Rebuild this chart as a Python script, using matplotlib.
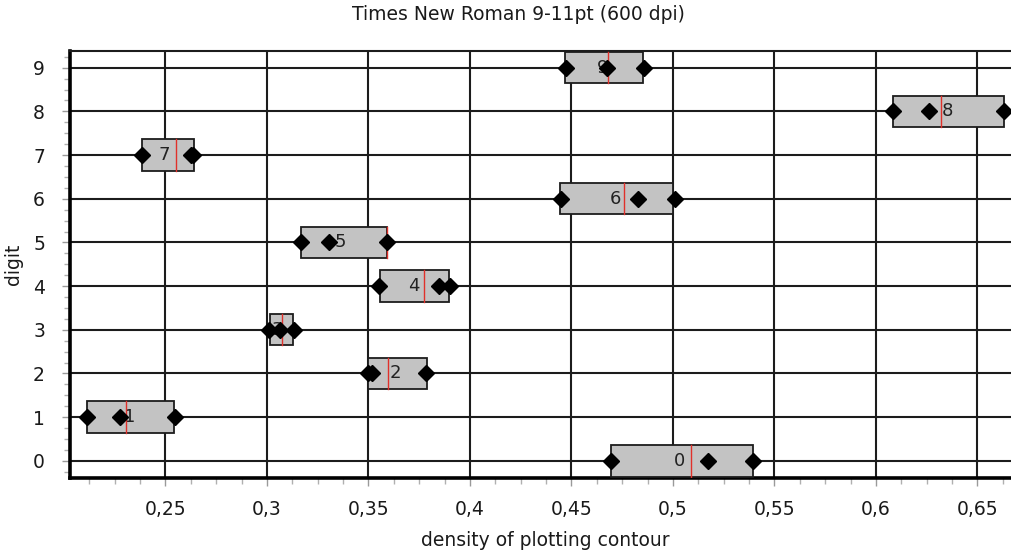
import matplotlib
matplotlib.use("Agg")
import matplotlib.pyplot as plt
from matplotlib.patches import Rectangle
from matplotlib.ticker import MultipleLocator, FuncFormatter

# Density of plotting contour per digit (Times New Roman 9-11pt, 600 dpi)
digits = [0, 1, 2, 3, 4, 5, 6, 7, 8, 9]
box_lo = [0.4696, 0.2112, 0.3499, 0.3015, 0.3557, 0.3166, 0.4443, 0.2386, 0.6082, 0.4468]
box_hi = [0.5393, 0.2542, 0.3787, 0.3126, 0.3896, 0.3593, 0.5001, 0.2640, 0.6630, 0.4851]
min_v = [0.4696, 0.2115, 0.3499, 0.3012, 0.3552, 0.3166, 0.4447, 0.2383, 0.6082, 0.4473]
mean_v = [0.5174, 0.2276, 0.3517, 0.3064, 0.3847, 0.3305, 0.4829, 0.2626, 0.6263, 0.4673]
max_v = [0.5393, 0.2547, 0.3782, 0.3135, 0.3900, 0.3590, 0.5010, 0.2634, 0.6630, 0.4857]
median_v = [0.5088, 0.2305, 0.3598, 0.3072, 0.3774, 0.3593, 0.4760, 0.2550, 0.6320, 0.4681]
label_at = [0.5030, 0.2322, 0.3635, 0.3054, 0.3722, 0.3360, 0.4719, 0.2494, 0.6351, 0.4655]
x_ticks = [0.25, 0.30, 0.35, 0.40, 0.45, 0.50, 0.55, 0.60, 0.65]

W, H = 1012, 556
plt.rcParams["font.family"] = ["DejaVu Sans"]

fig = plt.figure(figsize=(W / 100, H / 100), dpi=100)
fig.patch.set_facecolor("white")
ax = fig.add_axes([70 / W, 1 - 478 / H, (W - 70) / W, (478 - 50.7) / H])
ax.set_xlim(0.203, 0.667)
ax.set_ylim(-0.394, 9.39)

box_h = 0.72
ink = "#1c1c1c"
for d, lo, hi, mn, mu, mx, med, lx in zip(digits, box_lo, box_hi, min_v, mean_v,
                                          max_v, median_v, label_at):
    ax.add_patch(Rectangle((lo, d - box_h / 2), hi - lo, box_h,
                           facecolor="#c3c3c3", edgecolor=ink, lw=1.3, zorder=3))
    ax.text(lx, d, str(d), ha="center", va="center", fontsize=13,
            color="#222222", zorder=4)
    ax.plot([med, med], [d - box_h / 2, d + box_h / 2], color="#e0302a",
            lw=1.0, zorder=4.5)
    ax.plot([mn, mu, mx], [d, d, d], linestyle="none", marker="D",
            markersize=8, color="black", zorder=5)

# grid and axes frame
ax.set_axisbelow(True)
ax.grid(True, which="major", color=ink, lw=1.5)
ax.xaxis.set_major_locator(MultipleLocator(0.05))
ax.xaxis.set_minor_locator(MultipleLocator(0.0125))
ax.yaxis.set_major_locator(MultipleLocator(1))
ax.yaxis.set_minor_locator(MultipleLocator(0.25))
ax.set_xticks(x_ticks)
ax.xaxis.set_major_formatter(FuncFormatter(lambda v, p: f"{round(v, 4):g}".replace(".", ",")))
ax.set_yticks(digits)

for s in ("left", "bottom"):
    ax.spines[s].set_linewidth(2.6)
    ax.spines[s].set_color("black")
ax.spines["top"].set_linewidth(1.5)
ax.spines["top"].set_color(ink)
ax.spines["right"].set_visible(False)

ax.tick_params(axis="both", which="major", direction="out", length=6, width=1,
               color="#9a9a9a", labelsize=13.5, labelcolor="#1a1a1a")
ax.tick_params(axis="both", which="minor", direction="out", length=4, width=1,
               color="#b0b0b0")
ax.tick_params(axis="x", which="major", pad=10)
ax.tick_params(axis="y", which="major", pad=12)

fig.text(518 / W, 1 - 15 / H, "Times New Roman 9-11pt (600 dpi)", ha="center",
         va="center", fontsize=13.5, color="#1a1a1a")
fig.text(545 / W, 1 - 541 / H, "density of plotting contour", ha="center",
         va="center", fontsize=13.5, color="#1a1a1a")
fig.text(14 / W, 1 - 264 / H, "digit", ha="center", va="center", rotation=90,
         fontsize=13.5, color="#1a1a1a")

fig.savefig("out.png", dpi=100)
